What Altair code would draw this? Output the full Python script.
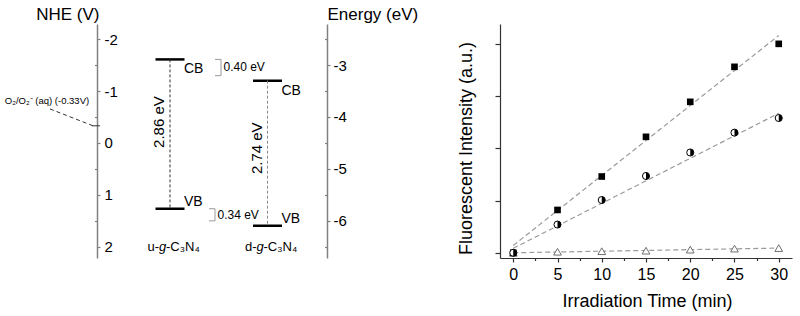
import altair as alt
import pandas as pd

# ---------------- data: band diagram (NHE, V) ----------------
materials = ["u", "d"]
mat_prefix = ["u-", "d-"]
mat_suffix = ["-C₃N₄", "-C₃N₄"]
cb_nhe = [-1.61, -1.20]
vb_nhe = [1.27, 1.60]
gap_labels = ["2.86 eV", "2.74 eV"]
offset_labels = ["0.40 eV", "0.34 eV"]
o2_level = -0.33
o2_label = "O₂/O₂⁻ (aq) (-0.33V)"
nhe_ticks = [-2, -1, 0, 1, 2]
nhe_minor = [-1.5, -0.5, 0.5, 1.5]
energy_ticks = [-6, -5, -4, -3]
energy_minor = [-6.5, -5.5, -4.5, -3.5, -2.5]

# ---------------- data: fluorescence vs time ----------------
time_min = [0, 5, 10, 15, 20, 25, 30]
sq_vals = [0.0, 0.82, 1.46, 2.22, 2.89, 3.56, 4.00]
half_vals = [0.0, 0.54, 1.01, 1.47, 1.92, 2.30, 2.58]
tri_vals = [0.0, 0.02, 0.03, 0.04, 0.06, 0.08, 0.09]
fit_time = [0, 30]
fit_sq = [0.14, 4.16]
fit_half = [0.085, 2.67]
fit_tri = [0.0, 0.09]
x_major = [0, 5, 10, 15, 20, 25, 30]
x_minor = [2.5, 7.5, 12.5, 17.5, 22.5, 27.5]
y_major = [0, 1, 2, 3, 4]

FONT = "Liberation Sans"

# ---------------- layout (one shared plot area, panels via scale domains) ----------------
W, H = 788, 234
col_pos = [1, 2]
XL = alt.Scale(domain=[-0.7026, 7.3795], nice=False, zero=False)
YN = alt.Scale(domain=[-2.293, 2.220], reverse=True, nice=False, zero=False)
YE = alt.Scale(domain=[-6.720, -2.207], nice=False, zero=False)
XR = alt.Scale(domain=[-57.555, 31.5], nice=False, zero=False)
YR = alt.Scale(domain=[-0.10, 4.38], nice=False, zero=False)


def yN(field, axis=None):
    return alt.Y(field, type="quantitative", scale=YN, axis=axis)


def xL(field):
    return alt.X(field, type="quantitative", scale=XL, axis=None)


df_mat = pd.DataFrame({
    "mat": materials, "col": col_pos, "cb": cb_nhe, "vb": vb_nhe,
    "gap": gap_labels, "pre": mat_prefix, "suf": mat_suffix,
})
df_mat["mid"] = (df_mat["cb"] + df_mat["vb"]) / 2
df_mat["g"] = "g"
df_mat["lab_y"] = 2.08

df_lev = pd.DataFrame({
    "col": col_pos * 2,
    "nhe": cb_nhe + vb_nhe,
    "band": ["CB", "CB", "VB", "VB"],
})

levels = alt.Chart(df_lev).mark_tick(
    orient="horizontal", size=29, thickness=2.5, color="black", opacity=1
).encode(
    x=xL("col"),
    y=yN("nhe", alt.Axis(
        orient="right", offset=-695, values=nhe_ticks, tickSize=3, labelPadding=4,
        labelFontSize=15, labelColor="black", labelExpr="'' + datum.value",
        domainColor="#808080", domainWidth=1.5, tickColor="#808080", tickWidth=1.2,
        title="NHE (V)", titleAngle=0, titleX=2, titleY=-5, titleAlign="right",
        titleBaseline="alphabetic", titleFontSize=17, titleFontWeight="normal",
        titleColor="black", grid=False, labelFlush=False,
    )),
)

conn_u = alt.Chart(df_mat[df_mat.mat == "u"]).mark_rule(
    strokeDash=[3, 2], color="#333333", strokeWidth=1
).encode(x=xL("col"), y=yN("cb"), y2="vb")
conn_d = alt.Chart(df_mat[df_mat.mat == "d"]).mark_rule(
    strokeDash=[3, 2], color="#8a8a8a", strokeWidth=1
).encode(x=xL("col"), y=yN("cb"), y2="vb")

cb_text = alt.Chart(df_lev[df_lev.band == "CB"]).mark_text(
    align="left", baseline="alphabetic", dx=14, dy=14, fontSize=14, color="black"
).encode(x=xL("col"), y=yN("nhe"), text="band:N")
vb_text = alt.Chart(df_lev[df_lev.band == "VB"]).mark_text(
    align="left", baseline="alphabetic", dx=14, dy=-2.5, fontSize=14, color="black"
).encode(x=xL("col"), y=yN("nhe"), text="band:N")

gap_u = alt.Chart(df_mat[df_mat.mat == "u"]).mark_text(
    angle=270, align="center", baseline="alphabetic", dx=12, dy=-6, fontSize=15, color="black"
).encode(x=xL("col"), y=yN("mid"), text="gap:N")
gap_d = alt.Chart(df_mat[df_mat.mat == "d"]).mark_text(
    angle=270, align="center", baseline="alphabetic", dx=5, dy=-6, fontSize=15, color="black"
).encode(x=xL("col"), y=yN("mid"), text="gap:N")

# brackets for the band-edge offsets
df_br = pd.DataFrame({
    "lab": offset_labels,
    "top": [cb_nhe[0], vb_nhe[0]],
    "bot": [cb_nhe[1], vb_nhe[1]],
    "xv": [1.523, 1.4615],
})
df_br["xa"] = df_br["xv"] - 0.0615
df_br["mid"] = (df_br["top"] + df_br["bot"]) / 2 - 0.05
br_v = alt.Chart(df_br).mark_rule(color="#9a9a9a", strokeWidth=1, y2Offset=-5).encode(
    x=xL("xv"), y=yN("top"), y2="bot")
br_t = alt.Chart(df_br).mark_rule(color="#9a9a9a", strokeWidth=1).encode(
    x=xL("xa"), x2="xv", y=yN("top"))
br_b = alt.Chart(df_br).mark_rule(color="#9a9a9a", strokeWidth=1, yOffset=-5).encode(
    x=xL("xa"), x2="xv", y=yN("bot"))
br_lab = alt.Chart(df_br).mark_text(
    align="left", baseline="middle", dx=2.5, fontSize=12, color="black"
).encode(x=xL("xv"), y=yN("mid"), text="lab:N")

# O2/O2- level leader
df_o2 = pd.DataFrame({"x": [-0.2308, 0.2103], "y": [-0.654, o2_level]})
o2_line = alt.Chart(df_o2).mark_line(strokeDash=[4, 3], color="#333333", strokeWidth=1).encode(
    x=xL("x"), y=yN("y"))
df_o2t = pd.DataFrame({"x": [0.20], "x2": [0.282], "y": [o2_level],
                       "tx": [-0.2615], "ty": [-0.75], "lab": [o2_label]})
o2_tick = alt.Chart(df_o2t).mark_rule(color="#333333", strokeWidth=1).encode(
    x=xL("x"), x2="x2", y=yN("y"))
o2_text = alt.Chart(df_o2t).mark_text(
    align="center", baseline="alphabetic", fontSize=9.5, color="black"
).encode(x=xL("tx"), y=yN("ty"), text="lab:N")

# material names
m_pre = alt.Chart(df_mat).mark_text(align="right", baseline="alphabetic", dx=-11, fontSize=13,
                                    color="black").encode(
    x=xL("col"), y=yN("lab_y"), text="pre:N")
m_g = alt.Chart(df_mat).mark_text(align="center", baseline="alphabetic", dx=-7.5, fontSize=13,
                                  fontStyle="italic", color="black").encode(
    x=xL("col"), y=yN("lab_y"), text="g:N")
m_suf = alt.Chart(df_mat).mark_text(align="left", baseline="alphabetic", dx=-4, fontSize=13,
                                    color="black").encode(
    x=xL("col"), y=yN("lab_y"), text="suf:N")

# extra axes: energy scale and minor ticks
energy_axis = alt.Chart(pd.DataFrame({"e": energy_ticks})).mark_point(opacity=0).encode(
    y=alt.Y("e:Q", scale=YE, axis=alt.Axis(
        orient="right", offset=-465, values=energy_ticks, tickSize=3, labelPadding=3,
        labelFontSize=15, labelColor="black", labelExpr="'' + datum.value",
        domainColor="#808080", domainWidth=1.5, tickColor="#808080", tickWidth=1.2,
        title="Energy (eV)", titleAngle=0, titleX=0, titleY=-5, titleAlign="left",
        titleBaseline="alphabetic", titleFontSize=17, titleFontWeight="normal",
        titleColor="black", grid=False, labelFlush=False,
    )))
energy_minor_axis = alt.Chart(pd.DataFrame({"e": energy_minor})).mark_point(opacity=0).encode(
    y=alt.Y("e:Q", scale=YE, axis=alt.Axis(
        orient="left", offset=-323, values=energy_minor, tickSize=2.5, labels=False,
        domain=False, tickColor="#808080", tickWidth=1.2, title=None, grid=False)))
nhe_minor_axis = alt.Chart(pd.DataFrame({"n": nhe_minor})).mark_point(opacity=0).encode(
    y=yN("n", alt.Axis(
        orient="left", offset=-93, values=nhe_minor, tickSize=2.5, labels=False,
        domain=False, tickColor="#808080", tickWidth=1.2, title=None, grid=False)))

# ---------------- right panel ----------------
x_axis = alt.Axis(
    orient="bottom", values=x_major, tickSize=4, labelPadding=4, labelFontSize=16,
    labelColor="black", domainColor="#333333", domainWidth=1.2,
    domainDash=[0, 496, 292, 3000], tickColor="#333333", tickWidth=1.2,
    title="Irradiation Time (min)", titleFontSize=18, titleFontWeight="normal",
    titleColor="black", titleX=643, titleY=48, titleBaseline="alphabetic",
    titleAlign="center", grid=False, labelFlush=False,
)
y_axis = alt.Axis(
    orient="left", offset=-496, values=y_major, tickSize=5, labels=False,
    domainColor="#333333", domainWidth=1.2, tickColor="#333333", tickWidth=1.2,
    title="Fluorescent Intensity (a.u.)", titleFontSize=18, titleFontWeight="normal",
    titleColor="black", titleAngle=270, titleX=-34, titleY=124, titleBaseline="middle",
    titleAlign="center", grid=False,
)


def yR(field, axis=None):
    return alt.Y(field, type="quantitative", scale=YR, axis=axis)


def xR(field, axis=None):
    return alt.X(field, type="quantitative", scale=XR, axis=axis)


df_fit = pd.DataFrame({
    "t": fit_time * 3,
    "v": fit_sq + fit_half + fit_tri,
    "s": ["sq"] * 2 + ["half"] * 2 + ["tri"] * 2,
})
df_pts = pd.DataFrame({"t": time_min, "sq": sq_vals, "half": half_vals, "tri": tri_vals})

fits = alt.Chart(df_fit).mark_line(strokeDash=[5, 3], color="#9a9a9a", strokeWidth=1.2).encode(
    x=xR("t", x_axis), y=yR("v", y_axis), detail="s:N")
tris = alt.Chart(df_pts).mark_point(
    shape="triangle-up", size=60, filled=True, fill="white", stroke="#6f6f6f", strokeWidth=1,
    opacity=1
).encode(x=xR("t"), y=yR("tri"))
sqs = alt.Chart(df_pts).mark_point(
    shape="square", size=44, filled=True, color="black", strokeWidth=0, opacity=1
).encode(x=xR("t"), y=yR("sq"))
half_bg = alt.Chart(df_pts).mark_point(
    shape="circle", size=50, filled=True, fill="white", stroke="black", strokeWidth=1, opacity=1
).encode(x=xR("t"), y=yR("half"))
half_fg = alt.Chart(df_pts).mark_point(
    shape="M0,-1A1,1,0,0,1,0,1Z", size=50, filled=True, color="black", strokeWidth=0, opacity=1
).encode(x=xR("t"), y=yR("half"))
xminor = alt.Chart(pd.DataFrame({"m": x_minor})).mark_point(opacity=0).encode(
    x=xR("m", alt.Axis(orient="bottom", values=x_minor, tickSize=2.5, labels=False,
                       domain=False, tickColor="#333333", tickWidth=1.2, title=None,
                       grid=False)))

chart = alt.layer(
    levels, conn_u, conn_d, cb_text, vb_text, gap_u, gap_d,
    br_v, br_t, br_b, br_lab, o2_line, o2_tick, o2_text,
    m_pre, m_g, m_suf, energy_axis, energy_minor_axis, nhe_minor_axis,
    fits, tris, sqs, half_bg, half_fg, xminor,
).resolve_scale(x="independent", y="independent").properties(
    width=W, height=H,
    autosize=alt.AutoSizeParams(type="none"),
    padding={"left": 4, "top": 24, "right": 8, "bottom": 58},
).configure(font=FONT).configure_view(stroke=None).configure_axis(
    labelFont=FONT, titleFont=FONT, grid=False)

chart.save("out.html", embed_options={"renderer": "svg", "actions": False})
